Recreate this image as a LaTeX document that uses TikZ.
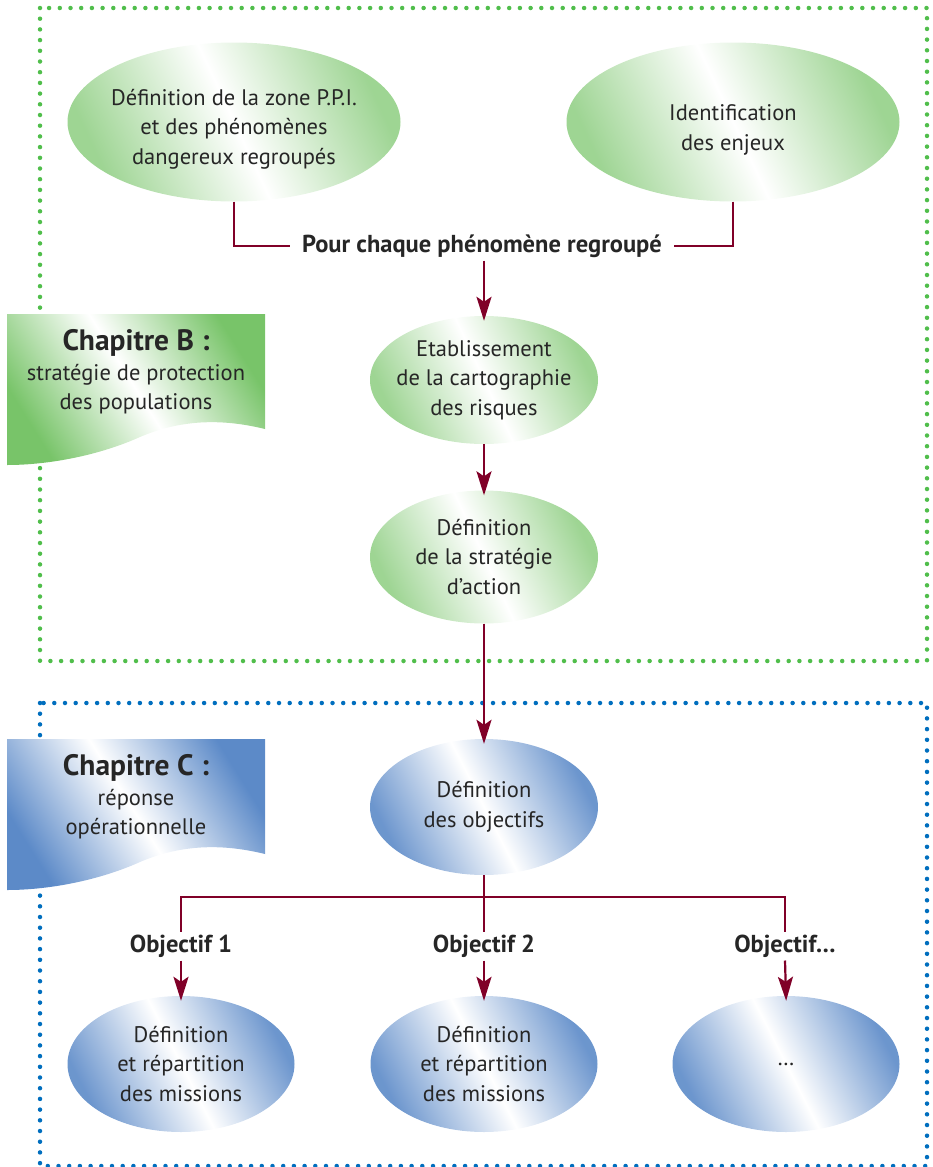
\documentclass[tikz,border=0pt]{standalone}
\usepackage{fontspec}
\setmainfont{PT Sans}
\usetikzlibrary{arrows.meta,shapes.geometric}
\definecolor{leafgreen}{RGB}{120,196,105}
\definecolor{skyblue}{RGB}{92,138,200}
\definecolor{dotgreen}{RGB}{80,190,75}
\definecolor{dotblue}{RGB}{0,110,190}
\definecolor{wine}{RGB}{128,0,40}
\tikzset{every node/.append style={font=\fontsize{22.5}{29.5}\selectfont}}
\tikzset{
  stage/.style={ellipse, inner xsep=-40pt, inner ysep=0pt, align=center, text=black!85},
  greenstage/.style={stage, left color=leafgreen!72, right color=leafgreen!72, middle color=white, shading angle=115},
  bluestage/.style={stage, left color=skyblue!90, right color=skyblue!90, middle color=white, shading angle=117},
  chapgreen/.style={left color=leafgreen, right color=leafgreen, middle color=white, shading angle=122},
  chapblue/.style={left color=skyblue, right color=skyblue, middle color=white, shading angle=122},
  caption/.style={align=center, text=black!85},
  tag/.style={font=\fontsize{24.5}{28}\selectfont\bfseries, text=black!85, inner ysep=3pt},
  link/.style={draw=wine, line width=2.2pt},
  flow/.style={link, -{Stealth[length=24pt, width=15pt, inset=5pt]}, shorten >=-5pt},
  dotframe/.style={line width=4.5pt, line cap=round, dash pattern=on 0pt off 10.7pt}
}

\begin{document}
\begin{tikzpicture}[x=1pt, y=-1pt]
    \useasboundingbox (0,0) rectangle (932,1167);
    % dotted frames of the two chapters
    \draw[dotframe, dotgreen] (40,8) rectangle (927,661);
    \draw[dotframe, dotblue] (40,703) rectangle (927,1166);
    % chapter flags
    \shade[chapgreen] (7,314) -- (265,314) -- (265,429)
        .. controls (220,418) and (180,420) .. (140,437)
        .. controls (100,455) and (50,465) .. (7,465) -- cycle;
    \node[caption] (chapB) at (136,372)
        {{\fontsize{29.5}{30}\selectfont\bfseries Chapitre B :}\\ stratégie de protection\\ des populations};
    \shade[chapblue] (7,739) -- (265,739) -- (265,854)
        .. controls (220,843) and (180,845) .. (140,862)
        .. controls (100,880) and (50,890) .. (7,890) -- cycle;
    \node[caption] (chapC) at (136,797)
        {{\fontsize{29.5}{30}\selectfont\bfseries Chapitre C :}\\ réponse\\ opérationnelle};
    % chapter B stages
    \node[greenstage, minimum width=333, minimum height=159] (zone) at (234,122) {};
    \node[caption] (zonetext) at ([yshift=-7pt]zone.center)
        {Définition de la zone P.P.I.\\ et des phénomènes\\ dangereux regroupés};
    \node[greenstage, minimum width=333, minimum height=159] (stakes) at (733,122) {};
    \node[caption] (stakestext) at ([yshift=-8pt]stakes.center)
        {Identification\\ des enjeux};
    \node[tag, inner xsep=12pt] (each) at (482,246) {Pour chaque phénomène regroupé};
    \node[greenstage, minimum width=228, minimum height=128] (map) at (484,380)
        {Etablissement\\ de la cartographie\\ des risques};
    \node[greenstage, minimum width=228, minimum height=133] (strat) at (484,557)
        {Définition\\ de la stratégie\\ d’action};
    % chapter C stages
    \node[bluestage, minimum width=228, minimum height=136] (goals) at (484,807)
        {Définition\\ des objectifs};
    \coordinate (fork) at (484,897);
    \node[tag] (obj1) at (181,946) {Objectif 1};
    \node[tag] (obj2) at (484,946) {Objectif 2};
    \node[tag] (obj3) at (785,946) {Objectif…};
    \node[bluestage, minimum width=227, minimum height=136] (mis1) at (181,1064)
        {Définition\\ et répartition\\ des missions};
    \node[bluestage, minimum width=227, minimum height=136] (mis2) at (484,1064)
        {Définition\\ et répartition\\ des missions};
    \node[bluestage, minimum width=227, minimum height=136] (mis3) at (786,1064) {…};
    % connectors
    \draw[link] (zone.south) |- (each.west);
    \draw[link] (stakes.south) |- (each.east);
    \draw[flow] (each.south -| map.north) -- (map.north);
    \draw[flow] (map.south) -- (strat.north);
    \draw[flow] (strat.south) -- (goals.north);
    \draw[link] (goals.south) -- (obj2.north);
    \draw[link] (obj1.north) -- (obj1.north |- fork) -- (obj3.north |- fork) -- (obj3.north);
    \foreach \i in {1,2,3}
        \draw[flow] (obj\i.south) -- (mis\i.north);
\end{tikzpicture}
\end{document}
